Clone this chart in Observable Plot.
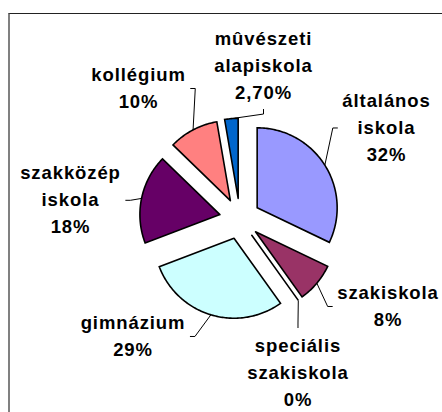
<!DOCTYPE html>
<html><head><meta charset="utf-8">
<script src="https://cdn.jsdelivr.net/npm/d3@7"></script>
<script src="https://cdn.jsdelivr.net/npm/@observablehq/plot@0.6"></script>
<style>
body{margin:0;background:#fff}
#wrap{position:relative;width:442px;height:412px;overflow:hidden;background:#fff}
#chart{position:absolute;left:0;top:0}
#border{position:absolute;left:8px;top:13px;width:440px;height:410px;border-top:1px solid #222;border-left:2px solid #808080;pointer-events:none}
</style></head><body>
<div id="wrap"><div id="chart"></div><div id="border"></div></div>
<script>
// ---- data ----
const names = ["általános iskola", "szakiskola", "speciális szakiskola", "gimnázium", "szakközép iskola", "kollégium", "mûvészeti alapiskola"];
const values = [32, 8, 0, 29, 18, 10, 2.7];
const labelLines = [["általános", "iskola"], ["szakiskola"], ["speciális", "szakiskola"], ["gimnázium"], ["szakközép", "iskola"], ["kollégium"], ["mûvészeti", "alapiskola"]];
const pctLabels = ["32%", "8%", "0%", "29%", "18%", "10%", "2,70%"];
const colors = ["#9999FF", "#993366", "#FFFFCC", "#CCFFFF", "#660066", "#FF8080", "#0066CC"];

// ---- layout (label placement, polar around pie centre, radius units) ----
const labelAngle = [58.25, 120.66, 159.37, 222.22, 276.2, 322.09, 8.79];
const labelDist = [2.155, 2.152, 2.061, 1.988, 2.130, 2.063, 1.931];
const leaderSide = ["left", "left", "top", "right", "right", "right", "bottom"];

const W = 442, H = 412, R = 80, CX = 239.4, CY = 218.2;
const EXPLODE = 20.4 / R;
const FS = 18.5, LH = 27, LS = 0.9;

const total = d3.sum(values);
let acc = 0;
const slices = values.map((v, i) => {
  const a0 = acc / total * 360; acc += v; const a1 = acc / total * 360;
  return {i, name: names[i], a0, a1, mid: (a0 + a1) / 2};
});
const rad = d => d * Math.PI / 180;
const pt = (a, r, ox = 0, oy = 0) => [ox + r * Math.sin(rad(a)), oy + r * Math.cos(rad(a))];

const sliceRows = [];
for (const s of slices) {
  const [tx, ty] = pt(s.mid, EXPLODE);
  sliceRows.push({name: s.name, x: tx, y: ty});
  const n = Math.max(1, Math.ceil(s.a1 - s.a0));
  for (let k = 0; k <= n; k++) {
    const a = s.a0 + (s.a1 - s.a0) * k / n;
    const [x, y] = pt(a, 1, tx, ty);
    sliceRows.push({name: s.name, x, y});
  }
  sliceRows.push({name: s.name, x: tx, y: ty});
}

const ctx = document.createElement("canvas").getContext("2d");
ctx.font = `bold ${FS}px 'Liberation Sans', Arial`;
const textW = s => ctx.measureText(s).width + LS * (s.length - 1);

const labelRows = [], leaderRows = [];
slices.forEach((s, i) => {
  const lines = [...labelLines[i], pctLabels[i]];
  const [lx, ly] = pt(labelAngle[i], labelDist[i]);
  labelRows.push({x: lx, y: ly, text: lines.join("\n")});
  const [tx, ty] = pt(s.mid, EXPLODE);
  const [ax, ay] = pt(s.mid, 1, tx, ty);
  const w = d3.max(lines, textW) / R, n = lines.length;
  const pad = 5 / R, el = 5 / R;
  let end, elbow;
  switch (leaderSide[i]) {
    case "left": end = [lx - w / 2 - pad, ly]; elbow = [end[0] - el, ly]; break;
    case "right": end = [lx + w / 2 + pad, ly]; elbow = [end[0] + el, ly]; break;
    case "top": end = [lx, ly + ((n - 1) / 2 * LH + 18) / R]; elbow = [lx, end[1] + el]; break;
    case "bottom": end = [lx, ly - ((n - 1) / 2 * LH + 16) / R]; elbow = [lx, end[1] - el]; break;
  }
  leaderRows.push({name: s.name, x: ax, y: ay}, {name: s.name, x: elbow[0], y: elbow[1]}, {name: s.name, x: end[0], y: end[1]});
});

const chart = Plot.plot({
  width: W, height: H,
  margin: 0,
  style: `font-family: 'Liberation Sans', Arial, sans-serif; letter-spacing: ${LS}px; background: transparent; overflow: visible;`,
  x: {axis: null, domain: [(0 - CX) / R, (W - CX) / R]},
  y: {axis: null, domain: [(CY - H) / R, CY / R]},
  color: {domain: names, range: colors},
  marks: [
    Plot.line(leaderRows, {x: "x", y: "y", z: "name", stroke: "black", strokeWidth: 1, strokeLinejoin: "miter", strokeLinecap: "butt"}),
    Plot.line(sliceRows, {x: "x", y: "y", z: "name", fill: "name", stroke: "black", strokeWidth: 1.6, strokeLinejoin: "miter", strokeMiterlimit: 4}),
    Plot.text(labelRows, {x: "x", y: "y", text: "text", fontSize: FS, fontWeight: "bold", lineHeight: LH / FS, dy: -3.1, fill: "black", textAnchor: "middle"})
  ]
});
document.getElementById("chart").appendChild(chart);
</script>
</body></html>
